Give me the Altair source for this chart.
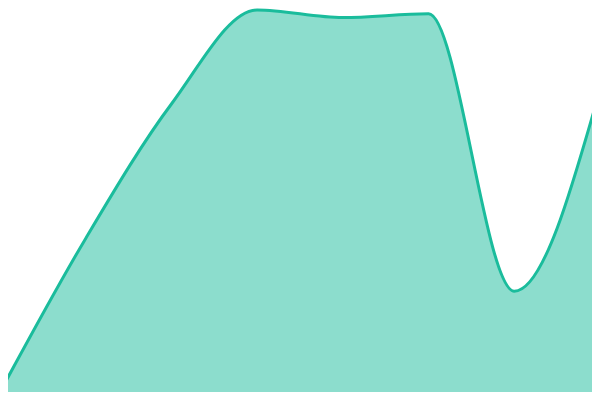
import altair as alt
import pandas as pd

positions = [0, 1, 2, 3, 4, 5, 6, 7]
values = [0, 160, 300, 398, 390, 394, 105, 315]

df = pd.DataFrame({"pos": positions, "value": values})

chart = (
    alt.Chart(df)
    .mark_area(
        interpolate="monotone",
        color="#1abc9c",
        fillOpacity=0.5,
        clip=True,
        line={"color": "#1abc9c", "strokeWidth": 3},
    )
    .encode(
        x=alt.X("pos:Q", axis=None, scale=alt.Scale(domain=[0.0933, 6.9067], nice=False, zero=False)),
        y=alt.Y("value:Q", axis=None, scale=alt.Scale(domain=[0, 400], nice=False)),
    )
    .properties(
        width=584,
        height=384,
        padding=0,
        autosize="none",
    )
    .configure_view(stroke=None)
)

chart.save("out.html", embed_options={"renderer": "svg", "actions": False})
